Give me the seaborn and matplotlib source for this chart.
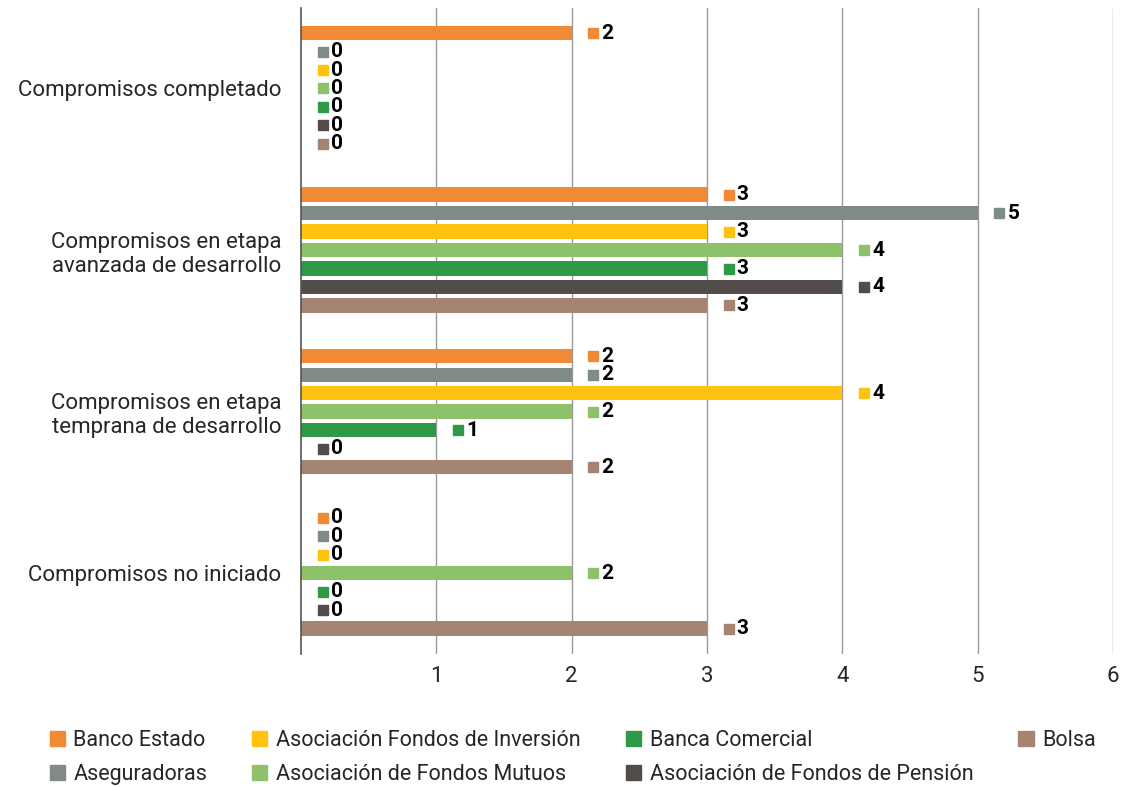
import pandas as pd
import matplotlib.pyplot as plt
import seaborn as sns

# ============================================================
# Data
# ============================================================

categories = [
    "Compromisos completado",
    "Compromisos en etapa\navanzada de desarrollo",
    "Compromisos en etapa\ntemprana de desarrollo",
    "Compromisos no iniciado",
]

series = [
    "Banco Estado",
    "Aseguradoras",
    "Asociación Fondos de Inversión",
    "Asociación de Fondos Mutuos",
    "Banca Comercial",
    "Asociación de Fondos de Pensión",
    "Bolsa",
]

banco_estado = [2, 3, 2, 0]
aseguradoras = [0, 5, 2, 0]
fondos_inversion = [0, 3, 4, 0]
fondos_mutuos = [0, 4, 2, 2]
banca_comercial = [0, 3, 1, 0]
fondos_pension = [0, 4, 0, 0]
bolsa = [0, 3, 2, 3]

colors = ["#F28A35", "#7F8C85", "#FFC20E", "#8DC26A", "#2E9A47", "#524C4A", "#A58472"]

values = [banco_estado, aseguradoras, fondos_inversion, fondos_mutuos,
          banca_comercial, fondos_pension, bolsa]

rows = []
for name, vals in zip(series, values):
    for cat, v in zip(categories, vals):
        rows.append({"categoria": cat, "serie": name, "valor": v})
df = pd.DataFrame(rows)

# ============================================================
# Plot
# ============================================================

sns.set_style("white")
plt.rcParams["font.family"] = ["Roboto", "DejaVu Sans"]

fig = plt.figure(figsize=(11.21, 7.87), dpi=100)
ax = fig.add_axes([0.2685, 0.169, 0.7244, 0.8212])

sns.barplot(
    data=df, y="categoria", x="valor", hue="serie",
    order=categories, hue_order=series, palette=colors,
    orient="h", width=0.8, gap=0.22, errorbar=None,
    saturation=1, legend=False, linewidth=0, ax=ax,
)

# data labels: small coloured square plus bold value
for cont, col in zip(ax.containers, colors):
    for bar in cont:
        v = bar.get_width()
        yc = bar.get_y() + bar.get_height() / 2
        ax.plot(v + 0.16, yc, marker="s", markersize=6.5, color=col,
                linestyle="none", clip_on=False)
        ax.text(v + 0.22, yc, f"{v:.0f}", va="center", ha="left",
                fontsize=15, fontweight="bold", color="black")

ax.set_ylim(len(categories) - 0.5, -0.5)
ax.set_xlim(0, 6)
ax.set_xticks([1, 2, 3, 4, 5, 6])
ax.xaxis.grid(True, color="#9a9a9a", linewidth=1)
ax.set_axisbelow(True)
ax.set_xlabel("")
ax.set_ylabel("")
for side in ["top", "right", "bottom"]:
    ax.spines[side].set_visible(False)
ax.spines["left"].set_color("#555555")
ax.spines["left"].set_linewidth(1.2)
ax.tick_params(axis="y", length=0, pad=14, labelsize=16)
ax.tick_params(axis="x", length=0, pad=9, labelsize=16)

# legend
handles = [plt.Rectangle((0, 0), 1, 1, color=c) for c in colors]
fig.legend(
    handles, series, ncol=4, loc="lower left",
    bbox_to_anchor=(0.027, -0.022), frameon=False, fontsize=15.5,
    handlelength=0.7, handleheight=0.7, handletextpad=0.4,
    columnspacing=2.1, labelspacing=0.6,
)

plt.savefig("out.png", dpi=100)
